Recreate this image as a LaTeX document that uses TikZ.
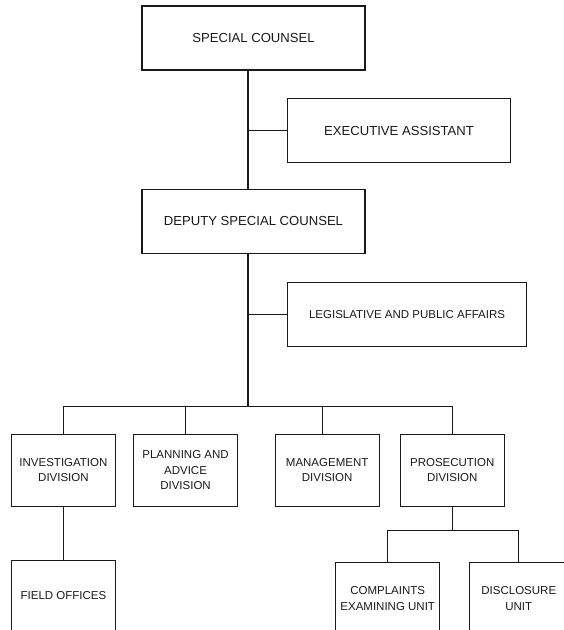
\documentclass[tikz,border=0pt]{standalone}
\usepackage{fontspec}
\setsansfont{Liberation Sans}
\usepackage{tikz}
\usetikzlibrary{positioning}
\usepackage{xcolor}
\definecolor{ink}{HTML}{1A1A1A}
\tikzset{
  base/.style={draw=ink,line width=1.1pt,fill=white,text=ink,align=center,inner sep=2pt},
  head/.style={base,font=\sffamily\fontsize{13.1}{15.5}\selectfont,minimum width=223pt,minimum height=64pt},
  staff/.style={base,font=\sffamily\fontsize{11.5}{15.5}\selectfont,minimum width=239pt,minimum height=64pt},
  unit/.style={base,font=\sffamily\fontsize{11.5}{15.5}\selectfont,minimum width=104pt,minimum height=72pt},
  link/.style={draw=ink,line width=1.1pt}
}
\begin{document}
\begin{tikzpicture}[x=1pt,y=1pt]
\useasboundingbox (0,0) rectangle (564,-630);
% front office
\node[head] (sc) at (253.5,-38) {SPECIAL COUNSEL};
\node[head,below=118pt of sc] (dsc) {DEPUTY SPECIAL COUNSEL};
\coordinate (jea) at ([shift={(-5.5,-60)}]sc.south);
\node[head,anchor=west] (ea) at ([xshift=39pt]jea) {EXECUTIVE ASSISTANT};
\coordinate (jlpa) at ([shift={(-5.5,-61)}]dsc.south);
\node[staff,anchor=west] (lpa) at ([xshift=39pt]jlpa) {LEGISLATIVE AND PUBLIC AFFAIRS};
\coordinate (bus) at ([shift={(-5.5,-152.7)}]dsc.south);

% divisions
\node[unit,anchor=north east] (inv) at ([shift={(-132,-27.3)}]bus) {INVESTIGATION\\DIVISION};
\node[unit,right=17pt of inv] (pad) {PLANNING AND\\ADVICE\\DIVISION};
\node[unit,right=36.5pt of pad] (mgmt) {MANAGEMENT\\DIVISION};
\node[unit,right=20pt of mgmt] (pros) {PROSECUTION\\DIVISION};

% units
\node[unit,below=53pt of inv,minimum height=71pt] (fo) {FIELD OFFICES};
\coordinate (jpros) at ([yshift=-24pt]pros.south);
\node[unit,anchor=north east] (ceu) at ([shift={(-12,-31)}]jpros) {COMPLAINTS\\EXAMINING UNIT};
\node[unit,right=29pt of ceu,minimum width=98pt] (du) {DISCLOSURE\\UNIT};

\draw[link] (sc.south -| jea) -- (dsc.north -| jea);
\draw[link] (dsc.south -| jea) -- (bus);
\draw[link] (jea) -- (ea.west);
\draw[link] (jlpa) -- (lpa.west);
\draw[link] (inv.north) |- (bus) -| (pros.north);
\draw[link] (pad.north) -- (pad.north |- bus);
\draw[link] ([xshift=-5pt]mgmt.north) -- ++(0,27.3);
\draw[link] (inv.south) -- (fo.north);
\draw[link] (pros.south) -- (jpros);
\draw[link] (ceu.north) |- (jpros) -| (du.north);
\end{tikzpicture}
\end{document}
